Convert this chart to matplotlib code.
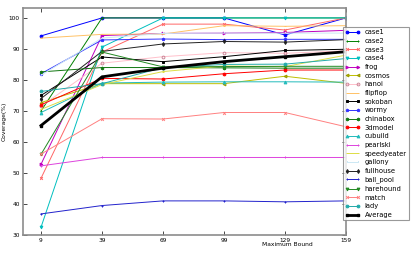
import matplotlib
matplotlib.use("Agg")
import matplotlib.pyplot as plt

bounds = [9, 39, 69, 99, 129, 159]

case1 = [94.2, 100, 100, 100, 94.5, 100]
case2 = [70.0, 100, 100, 100, 100, 100]
case3 = [48.3, 89.0, 98.0, 98.0, 96.1, 100]
case4 = [32.5, 90.6, 100, 100, 100, 100]
frog = [52.8, 94.3, 95.0, 95.1, 95.3, 96.0]
cosmos = [72.7, 78.8, 78.8, 78.8, 81.2, 78.9]
hanoi = [71.5, 85.4, 87.5, 88.8, 88.6, 89.4]
flipflop = [93.5, 94.7, 94.8, 97.5, 97.3, 97.5]
sokoban = [75.0, 87.4, 85.9, 87.5, 89.5, 89.9]
wormy = [82.0, 92.9, 93.2, 93.0, 93.1, 93.1]
chinabox = [82.6, 84.0, 84.0, 83.9, 83.8, 83.8]
model3d = [72.0, 80.5, 80.3, 82.0, 83.2, 83.2]
cubuild = [69.5, 79.0, 79.3, 79.4, 79.4, 79.3]
pearlski = [52.3, 55.0, 55.0, 55.0, 55.0, 55.0]
speedyeater = [70.5, 78.5, 82.7, 84.5, 84.3, 88.0]
gallony = [81.5, 93.5, 95.0, 95.1, 95.1, 95.1]
fullhouse = [74.0, 89.2, 91.6, 92.4, 92.2, 93.0]
ball_pool = [36.8, 39.5, 41.0, 41.0, 40.7, 41.0]
harehound = [56.0, 89.0, 84.2, 84.3, 84.4, 84.4]
match = [56.1, 67.5, 67.4, 69.5, 69.5, 64.9]
lady = [76.3, 78.8, 84.0, 85.0, 85.1, 86.9]
average = [65.3, 81.0, 83.8, 85.9, 87.5, 89.1]

series = [
    ("case1", case1, dict(color="b", marker="o")),
    ("case2", case2, dict(color="g", marker="+")),
    ("case3", case3, dict(color="#ff6666", marker="x")),
    ("case4", case4, dict(color="c", marker="v")),
    ("frog", frog, dict(color="m", marker=">")),
    ("cosmos", cosmos, dict(color="y", marker="<", mec="#999900")),
    ("hanoi", hanoi, dict(color="pink", marker="o", mfc="none", mec="#cc8899")),
    ("flipflop", flipflop, dict(color="#ffc266", marker="_")),
    ("sokoban", sokoban, dict(color="k", marker="s")),
    ("wormy", wormy, dict(color="#3333ff", marker="p")),
    ("chinabox", chinabox, dict(color="#117711", marker="h")),
    ("3dmodel", model3d, dict(color="r", marker="o")),
    ("cubuild", cubuild, dict(color="#22bbbb", marker="^")),
    ("pearlski", pearlski, dict(color="#dd44dd", marker="+")),
    ("speedyeater", speedyeater, dict(color="#dddd44", marker="_")),
    ("gallony", gallony, dict(color="#cce8f4", marker=",")),
    ("fullhouse", fullhouse, dict(color="#222222", marker="d")),
    ("ball_pool", ball_pool, dict(color="#2222cc", marker="+")),
    ("harehound", harehound, dict(color="#228822", marker="v")),
    ("match", match, dict(color="#ff8080", marker="x")),
    ("lady", lady, dict(color="#22aaaa", marker="o")),
]

fig = plt.figure(figsize=(4.15, 2.54), dpi=100)
ax = fig.add_axes([0.0547, 0.0748, 0.779, 0.8937])

for name, vals, st in series:
    ax.plot(bounds, vals, label=name, lw=0.7, ms=2.0, mew=0.7, **st)
ax.plot(bounds, average, label="Average", color="k", lw=2.0, marker="s", ms=1.8)

ax.set_xlim(0, 159)
ax.set_ylim(30, 103.2)
ax.set_xticks(bounds)
ax.set_yticks(range(30, 101, 10))
ax.tick_params(direction="in", top=True, right=True, labelsize=4.2, length=3, width=0.5, pad=2)
for s in ax.spines.values():
    s.set_color("0.55")
    s.set_linewidth(1.2)
ax.set_xlabel("Maximum Bound", fontsize=4.3, labelpad=1.5)
ax.xaxis.set_label_coords(0.82, -0.032)
ax.set_ylabel("Coverage(%)", fontsize=4.3, labelpad=1.5)

leg = ax.legend(loc="upper left", bbox_to_anchor=(0.99, 0.916), fontsize=4.9,
                numpoints=2, handlelength=2.2, labelspacing=0.39, handletextpad=0.7,
                borderpad=0.35, frameon=True, fancybox=False, borderaxespad=0)
leg.get_frame().set_edgecolor("0.5")
leg.get_frame().set_linewidth(0.8)

fig.savefig("out.png", dpi=100, facecolor="white")
